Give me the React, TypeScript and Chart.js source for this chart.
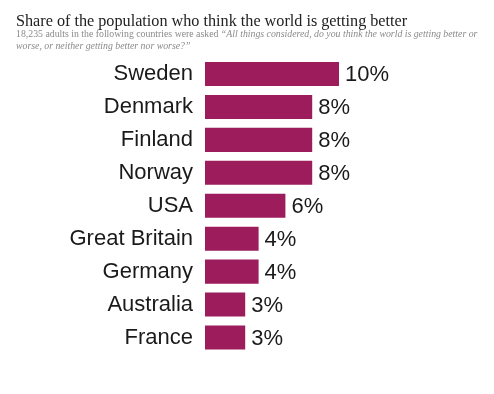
import React, { useEffect, useRef } from "react";
import { Chart, registerables } from "chart.js";

Chart.register(...registerables);

const countries = ["Sweden", "Denmark", "Finland", "Norway", "USA", "Great Britain", "Germany", "Australia", "France"];
const shares = [10, 8, 8, 8, 6, 4, 4, 3, 3];
const valueLabels = ["10%", "8%", "8%", "8%", "6%", "4%", "4%", "3%", "3%"];
const titleText = "Share of the population who think the world is getting better";
const subtitlePlain = "18,235 adults in the following countries were asked ";
const subtitleItalic1 = "\u201CAll things considered, do you think the world is getting better or";
const subtitleItalic2 = "worse, or neither getting better nor worse?\u201D";

const SERIF = "Georgia, 'Liberation Serif', 'DejaVu Serif', serif";
const SANS = "Helvetica, Arial, 'Liberation Sans', sans-serif";

const headerPlugin = {
  id: "header",
  afterDraw(chart: any) {
    const ctx = chart.ctx;
    ctx.save();
    ctx.textBaseline = "alphabetic";
    ctx.textAlign = "left";
    ctx.fillStyle = "#222";
    ctx.font = `16.2px ${SERIF}`;
    ctx.fillText(titleText, 16, 26);
    ctx.fillStyle = "#8a8a8a";
    ctx.font = `9.8px ${SERIF}`;
    ctx.fillText(subtitlePlain, 16, 37);
    const w = ctx.measureText(subtitlePlain).width;
    ctx.font = `italic 9.8px ${SERIF}`;
    ctx.fillText(subtitleItalic1, 16 + w, 37);
    ctx.fillText(subtitleItalic2, 16, 49);
    ctx.restore();
  },
};

const valuePlugin = {
  id: "values",
  afterDatasetsDraw(chart: any) {
    const ctx = chart.ctx;
    const meta = chart.getDatasetMeta(0);
    ctx.save();
    ctx.font = `22px ${SANS}`;
    ctx.fillStyle = "#1a1a1a";
    ctx.textAlign = "left";
    ctx.textBaseline = "middle";
    meta.data.forEach((bar: any, i: number) => {
      ctx.fillText(valueLabels[i], bar.x + 6, bar.y + 1);
    });
    ctx.restore();
  },
};

export default function App() {
  const ref = useRef<HTMLCanvasElement>(null);
  useEffect(() => {
    if (!ref.current) return;
    const chart = new Chart(ref.current, {
      type: "bar",
      data: {
        labels: countries,
        datasets: [
          {
            data: shares,
            backgroundColor: "#9c1c5c",
            borderWidth: 0,
            barPercentage: 0.73,
            categoryPercentage: 1,
          },
        ],
      },
      options: {
        indexAxis: "y",
        animation: false,
        responsive: false,
        maintainAspectRatio: false,
        layout: { padding: { left: 0, right: 21, top: 57.5, bottom: 40 } },
        plugins: { legend: { display: false }, tooltip: { enabled: false }, title: { display: false } },
        scales: {
          x: { display: false, min: 0, max: 20 },
          y: {
            grid: { display: false, drawTicks: false },
            border: { display: false },
            ticks: { color: "#1a1a1a", font: { family: SANS, size: 22 }, padding: 12 },
            afterFit(scale: any) {
              scale.width = 205;
            },
          },
        },
      },
      plugins: [headerPlugin, valuePlugin],
    });
    return () => chart.destroy();
  }, []);
  return (
    <div style={{ position: "absolute", left: 0, top: 0, width: 494, height: 394, background: "#fff" }}>
      <canvas ref={ref} width={494} height={394} style={{ display: "block" }} />
    </div>
  );
}
